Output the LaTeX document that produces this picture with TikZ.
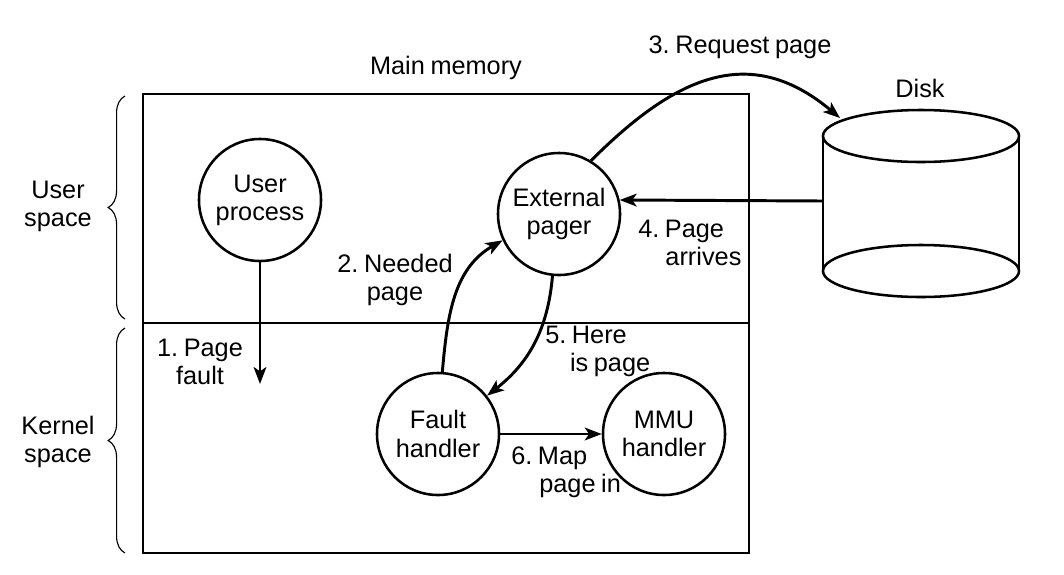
\documentclass[tikz,border=0pt]{standalone}
\usepackage{fontspec}
\setmainfont{Liberation Sans}
\usetikzlibrary{arrows.meta, decorations.pathreplacing, positioning}
\newcommand{\pgfont}{\fontsize{18}{20}\selectfont\frenchspacing\spaceskip=0.22em\relax}
\tikzstyle{cnode} = [circle, draw, line width=1.8pt, minimum size=3.05cm, inner sep=0pt, align=center]
\tikzstyle{tnode} = [inner sep=0pt, align=center]
\tikzstyle{lnode} = [inner sep=0pt, align=left, anchor=west]
\tikzstyle{line} = [draw, line width=1.8pt]
\tikzstyle{arr} = [draw, line width=2.1pt, -{Stealth[length=12pt, width=9pt, inset=3pt]}]
\tikzstyle{brc} = [draw, line width=0.8pt, decorate, decoration={brace, amplitude=12pt}]

\begin{document}
\begin{tikzpicture}[x=0.025cm, y=-0.025cm, font=\pgfont]
				\useasboundingbox (0,0) rectangle (1064,574);

				% main memory box
				\path [line] (143,94) rectangle (749,553);
				\path [line] (143,323) -- (749,323);
				\node [tnode] (mem) at (446,68) {Main memory};

				% braces
				\path [brc] (125,319) -- (125,96);
				\path [brc] (125,553) -- (125,328);
				\node [tnode] (uspace) at (58,206) {User\\space};
				\node [tnode] (kspace) at (58,442) {Kernel\\space};

				% processes
				\node [cnode] (user) at (260,200) {User\\process};
				\node [cnode] (pager) at (559,214) {External\\pager};
				\node [cnode] (fault) at (438,434) {Fault\\handler};
				\node [cnode] (mmu) at (664,434) {MMU\\handler};

				% disk
				\draw [line width=1.8pt] (921,136) ellipse (2.45cm and 0.65cm);
				\draw [line width=1.8pt] (921,271) ellipse (2.45cm and 0.65cm);
				\path [line] (823,136) -- (823,271);
				\path [line] (1019,136) -- (1019,271);
				\node [tnode] (disk) at (920,88) {Disk};
				\coordinate (disktop) at (840,118);
				\coordinate (diskin) at (823,201);
				\coordinate (pfend) at (260,384);

				% steps
				\path [arr] (user.south) -- (pfend);
				\path [arr] (fault.86) to[out=85, in=210] (pager.205);
				\path [arr] (pager.59) to[out=45, in=140, looseness=1.2] (disktop);
				\path [arr] (diskin) -- (pager.13);
				\path [arr] (pager.264) to[out=265, in=38] (fault.38);
				\path [arr] (fault) -- (mmu);

				\node [tnode] (l1) at (200,362) {1. Page\\fault};
				\node [tnode] (l2) at (395,280) {2. Needed\\page};
				\node [tnode] (l3) at (740,47) {3. Request page};
				\node [lnode] (l4) at (638,243) {4. Page\\\hspace*{0.68cm}arrives};
				\node [lnode] (l5) at (545,351) {5. Here\\\hspace*{0.62cm}is page};
				\node [lnode] (l6) at (511,472) {6. Map\\\hspace*{0.7cm}page in};
			\end{tikzpicture}
\end{document}
